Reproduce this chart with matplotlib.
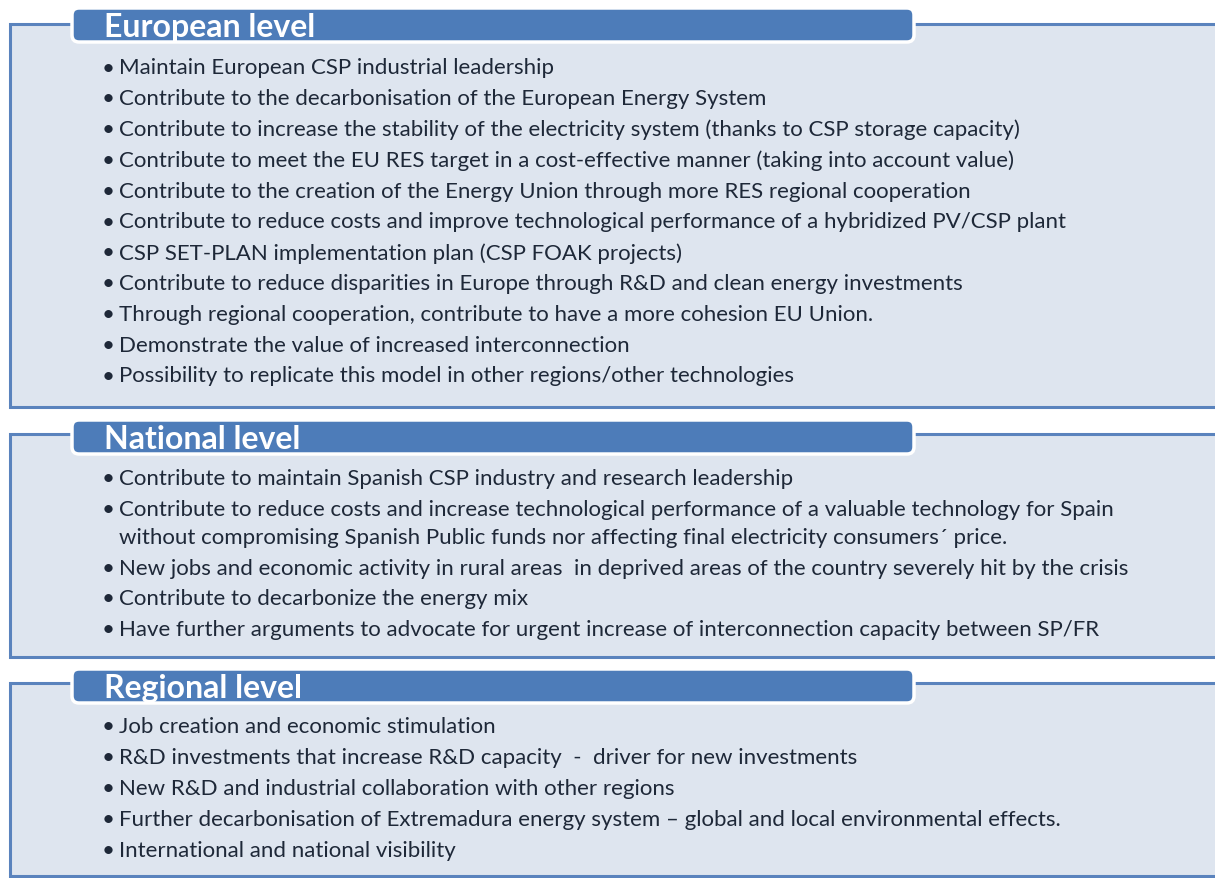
import matplotlib
matplotlib.use("Agg")
import matplotlib.pyplot as plt
from matplotlib.patches import FancyBboxPatch, Rectangle

titles = ["European level", "National level", "Regional level"]

european_items = [
    "Maintain European CSP industrial leadership",
    "Contribute to the decarbonisation of the European Energy System",
    "Contribute to increase the stability of the electricity system (thanks to CSP storage capacity)",
    "Contribute to meet the EU RES target in a cost-effective manner (taking into account value)",
    "Contribute to the creation of the Energy Union through more RES regional cooperation",
    "Contribute to reduce costs and improve technological performance of a hybridized PV/CSP plant",
    "CSP SET-PLAN implementation plan (CSP FOAK projects)",
    "Contribute to reduce disparities in Europe through R&D and clean energy investments",
    "Through regional cooperation, contribute to have a more cohesion EU Union.",
    "Demonstrate the value of increased interconnection",
    "Possibility to replicate this model in other regions/other technologies",
]
national_items = [
    "Contribute to maintain Spanish CSP industry and research leadership",
    "Contribute to reduce costs and increase technological performance of a valuable technology for Spain\nwithout compromising Spanish Public funds nor affecting final electricity consumers\u00b4 price.",
    "New jobs and economic activity in rural areas  in deprived areas of the country severely hit by the crisis",
    "Contribute to decarbonize the energy mix",
    "Have further arguments to advocate for urgent increase of interconnection capacity between SP/FR",
]
regional_items = [
    "Job creation and economic stimulation",
    "R&D investments that increase R&D capacity  -  driver for new investments",
    "New R&D and industrial collaboration with other regions",
    "Further decarbonisation of Extremadura energy system \u2013 global and local environmental effects.",
    "International and national visibility",
]
sections = [european_items, national_items, regional_items]

# layout (pixels)
W, H = 1215, 879
box_tops = [25, 435, 684]
box_bottoms = [408, 658, 877]
header_tops = [7, 419, 668]
header_h = 38
first_line_y = [68.5, 479.5, 727.5]
line_step = 30.8

BOX_FILL = "#dee5ef"
BOX_EDGE = "#5a83bd"
HEAD_FILL = "#4d7cb9"
TEXT = "#1e2838"
BODY_SIZE = 16
HEAD_SIZE = 23

fig = plt.figure(figsize=(W / 100, H / 100), dpi=100)
ax = fig.add_axes([0, 0, 1, 1])
ax.set_xlim(0, W)
ax.set_ylim(H, 0)
ax.axis("off")

for i, (title, items) in enumerate(zip(titles, sections)):
    top, bot = box_tops[i], box_bottoms[i]
    ax.add_patch(Rectangle((10, top), W + 20 - 10, bot - top, facecolor=BOX_FILL,
                           edgecolor=BOX_EDGE, linewidth=2.2, zorder=1))
    ht = header_tops[i]
    ax.add_patch(FancyBboxPatch((72, ht + 2), 842, header_h - 4,
                                boxstyle="round,pad=0,rounding_size=7",
                                facecolor=HEAD_FILL, edgecolor="white",
                                linewidth=2.5, zorder=3))
    ax.text(104, ht + header_h / 2 + 1.5, title, fontsize=HEAD_SIZE, fontfamily="Lato",
            fontweight="bold", color="white", va="center", ha="left", zorder=4)
    y = first_line_y[i]
    for item in items:
        parts = item.split("\n")
        ax.text(102, y, "\u2022", fontsize=BODY_SIZE, fontfamily="Lato", color=TEXT,
                va="center", ha="left", zorder=4)
        for p in parts:
            ax.text(119, y, p, fontsize=BODY_SIZE, fontfamily="Lato", color=TEXT,
                    va="center", ha="left", zorder=4)
            y += line_step if len(parts) == 1 else 27.5
        if len(parts) > 1:
            y += line_step - 27.5

fig.savefig("out.png", dpi=100, facecolor="white")
